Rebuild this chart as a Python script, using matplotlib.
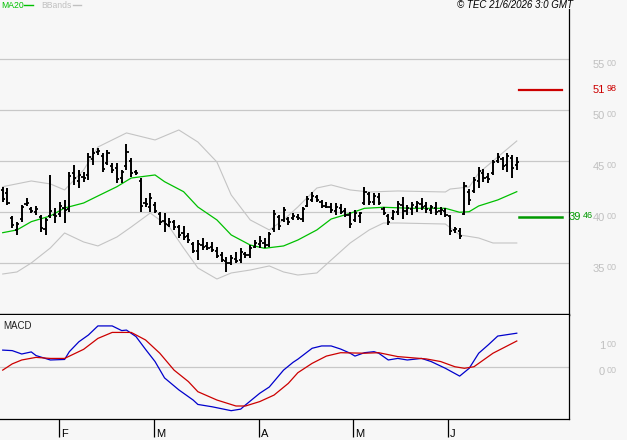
import matplotlib
matplotlib.use("Agg")
import matplotlib.pyplot as plt
import numpy as np

plt.rcParams['font.family'] = ['Liberation Sans', 'DejaVu Sans']

# daily bars, mid january -> mid june
highs = [42.48, 42.35, 39.61, 39.02, 40.69, 41.37, 40.49, 40.59, 39.71, 39.41,
         43.63, 40.39, 40.98, 41.18, 43.92, 44.61, 44.12, 43.92, 45.78, 46.27,
         46.27, 45.78, 46.08, 44.80, 44.80, 44.12, 46.67, 45.29, 44.12, 43.33,
         41.37, 41.86, 40.98, 40.00, 39.90, 39.41, 39.22, 38.73, 38.63, 37.94,
         37.06, 37.25, 37.45, 37.06, 37.06, 36.57, 36.08, 35.59, 35.78, 36.08,
         36.47, 36.08, 36.76, 37.25, 37.65, 37.45, 38.04, 40.20, 39.71, 40.49,
         39.51, 39.90, 39.80, 40.49, 41.57, 41.96, 41.67, 41.18, 40.98, 40.88,
         40.88, 40.78, 40.39, 40.00, 40.20, 40.00, 42.45, 41.96, 41.86, 41.86,
         40.49, 39.80, 40.20, 41.08, 41.47, 40.69, 40.98, 41.08, 41.37, 40.98,
         40.69, 40.98, 40.49, 40.39, 39.71, 38.53, 38.43, 42.94, 42.25, 43.43,
         44.41, 44.22, 43.82, 45.10, 45.78, 45.39, 45.78, 45.59, 45.39]
lows = [41.01, 40.69, 38.43, 37.75, 39.02, 40.59, 39.90, 39.71, 38.04, 37.75,
        39.41, 38.92, 39.51, 38.92, 40.00, 42.65, 42.35, 42.94, 43.14, 44.61,
        45.59, 43.92, 44.61, 43.82, 42.84, 42.84, 44.12, 43.43, 43.63, 40.00,
        40.49, 40.00, 39.90, 38.73, 38.04, 38.53, 38.24, 37.45, 37.25, 36.96,
        35.98, 35.29, 36.27, 36.27, 36.08, 35.49, 35.10, 34.12, 34.80, 35.00,
        35.00, 35.49, 35.49, 36.47, 36.47, 36.47, 36.57, 38.04, 38.24, 39.02,
        38.73, 39.22, 39.22, 39.02, 40.49, 40.98, 40.98, 40.39, 40.39, 39.90,
        39.71, 39.80, 39.51, 38.43, 39.02, 38.92, 40.69, 40.69, 40.69, 40.69,
        39.71, 38.73, 39.22, 39.71, 39.31, 39.71, 39.71, 40.00, 40.20, 39.90,
        39.80, 39.71, 39.71, 39.51, 37.75, 37.94, 37.35, 39.71, 40.69, 41.86,
        42.35, 42.94, 42.84, 43.63, 44.80, 44.12, 43.92, 43.33, 44.12]
opens = [42.2, 41.9, 39.4, 38.2, 39.3, 40.8, 40.3, 40.0, 39.5, 38.3,
         39.6, 39.7, 39.8, 40.4, 40.3, 43.8, 43.0, 43.4, 43.6, 45.2,
         45.9, 45.5, 44.8, 44.5, 44.3, 43.3, 44.5, 45.0, 43.9, 43.0,
         40.9, 40.5, 40.7, 39.8, 39.1, 38.7, 39.0, 38.5, 37.9, 37.6,
         36.9, 36.2, 36.8, 36.7, 36.6, 36.2, 35.8, 35.2, 35.0, 35.4,
         35.3, 35.9, 35.8, 36.6, 36.9, 37.0, 36.8, 38.3, 39.5, 39.2,
         39.3, 39.4, 39.5, 39.3, 40.6, 41.2, 41.5, 41.0, 40.6, 40.5,
         40.1, 40.4, 40.1, 39.7, 39.2, 39.6, 40.9, 41.8, 41.0, 41.5,
         40.3, 39.6, 39.4, 40.0, 40.7, 40.1, 40.3, 40.5, 40.8, 40.6,
         40.2, 40.4, 40.1, 40.1, 39.6, 38.2, 38.1, 39.8, 42.0, 42.1,
         43.0, 43.8, 43.4, 43.8, 45.0, 45.2, 44.6, 45.3, 44.6]
closes = [41.3, 40.9, 38.7, 38.8, 40.5, 40.9, 40.1, 40.3, 38.4, 39.2,
          40.1, 39.6, 40.6, 40.2, 43.5, 43.3, 43.6, 43.3, 45.4, 45.8,
          46.0, 44.2, 45.8, 44.1, 43.2, 43.9, 45.9, 43.8, 43.8, 40.6,
          40.8, 41.4, 40.1, 39.0, 38.8, 39.0, 38.5, 37.7, 37.5, 37.3,
          36.2, 36.9, 36.6, 36.5, 36.3, 35.7, 35.3, 35.0, 35.5, 35.2,
          36.1, 35.8, 36.5, 37.0, 37.2, 36.8, 37.8, 39.8, 38.6, 40.2,
          39.0, 39.6, 39.4, 40.3, 41.3, 41.6, 41.2, 40.6, 40.5, 40.2,
          40.5, 40.0, 39.7, 38.8, 39.9, 39.9, 42.0, 41.0, 41.6, 40.9,
          39.9, 39.0, 40.0, 40.8, 40.1, 40.4, 40.7, 40.9, 40.5, 40.3,
          40.5, 40.0, 40.2, 39.7, 38.1, 38.3, 37.6, 42.5, 41.2, 43.1,
          44.0, 43.3, 43.2, 44.9, 45.4, 44.5, 45.5, 44.3, 44.9]

# indicators (bar index, value)
ma_idx = [0, 3, 6, 10, 13, 17, 20, 24, 27, 32, 34, 38, 41, 45, 48, 52, 55, 59, 62, 66,
          69, 73, 76, 80, 86, 93, 96, 98, 100, 104, 108]
ma_val = [37.97, 38.24, 39.05, 39.61, 40.39, 40.88, 41.57, 42.48, 43.33, 43.63, 42.97,
          41.99, 40.49, 39.22, 37.75, 36.76, 36.44, 36.67, 37.25, 38.24, 39.31, 39.87,
          40.36, 40.46, 40.36, 40.36, 39.97, 40.03, 40.59, 41.18, 41.99]
bb_up_idx = [0, 6, 10, 13, 17, 20, 26, 32, 37, 41, 45, 48, 52, 56, 59, 62, 66, 69, 73,
             77, 83, 93, 94, 98, 100, 104, 108]
bb_up_val = [42.48, 43.04, 42.75, 42.16, 44.12, 46.37, 47.75, 47.06, 48.04, 46.86, 44.90,
             41.67, 39.22, 38.24, 39.22, 40.49, 42.35, 42.65, 42.16, 41.96, 42.06, 41.96,
             42.25, 42.45, 43.82, 45.39, 46.96]
bb_lo_idx = [0, 3, 6, 10, 13, 17, 20, 24, 27, 31, 35, 38, 41, 45, 48, 52, 56, 59, 62, 66,
             69, 73, 77, 80, 83, 93, 96, 100, 103, 108]
bb_lo_val = [33.92, 34.12, 35.00, 36.47, 37.94, 37.06, 36.67, 37.55, 38.53, 39.90, 38.53,
             36.47, 34.51, 33.43, 34.02, 34.31, 34.71, 34.12, 33.82, 34.02, 35.29, 36.96,
             38.24, 38.92, 38.92, 38.82, 37.75, 37.45, 36.96, 36.96]

macd_idx = [0, 2, 4, 6, 7, 10, 13, 14, 16, 18, 20, 23, 25, 26, 28, 30, 32, 34, 37, 40,
            41, 44, 48, 50, 51, 54, 56, 59, 61, 62, 65, 67, 69, 71, 73, 74, 76, 78, 79,
            81, 83, 85, 88, 90, 93, 96, 98, 100, 102, 104, 108]
macd_val = [0.65, 0.63, 0.50, 0.58, 0.44, 0.27, 0.29, 0.59, 0.97, 1.23, 1.58, 1.58, 1.40,
            1.42, 1.17, 0.68, 0.21, -0.42, -0.88, -1.27, -1.44, -1.53, -1.68, -1.62,
            -1.46, -1.01, -0.77, -0.12, 0.18, 0.30, 0.72, 0.81, 0.81, 0.69, 0.53, 0.42,
            0.55, 0.59, 0.53, 0.27, 0.33, 0.27, 0.33, 0.21, -0.05, -0.35, -0.05, 0.53,
            0.85, 1.19, 1.30]
sig_idx = [0, 2, 4, 7, 10, 13, 17, 20, 23, 27, 30, 33, 36, 39, 41, 45, 49, 51, 54, 57,
           60, 62, 65, 68, 71, 76, 79, 83, 89, 92, 95, 97, 99, 103, 108]
sig_val = [-0.12, 0.12, 0.27, 0.37, 0.33, 0.33, 0.68, 1.10, 1.33, 1.33, 1.04, 0.53, -0.12,
           -0.56, -0.95, -1.27, -1.50, -1.50, -1.33, -1.08, -0.63, -0.22, 0.14, 0.42,
           0.55, 0.53, 0.55, 0.40, 0.31, 0.21, 0.01, -0.05, 0.01, 0.53, 1.00]

month_pos = [11.9, 31.8, 53.8, 73.6, 93.5]
month_lbl = ['F', 'M', 'A', 'M', 'J']
price_ticks = [35, 40, 45, 50, 55]
macd_ticks = [0, 1]
resistance = 51.98
support = 39.46

BG = '#f7f7f7'
GRID = '#c8c8c8'
LBL = '#c0c0c0'

fig = plt.figure(figsize=(6.27, 4.4), dpi=100, facecolor=BG)
ax = fig.add_axes([0, 1 - 315 / 440, 569 / 627, (315 - 9) / 440], facecolor=BG)
axm = fig.add_axes([0, 1 - 419 / 440, 569 / 627, (419 - 315) / 440], facecolor=BG, sharex=ax)

# price panel
x = np.arange(len(highs))
for p in price_ticks:
    ax.axhline(p, color=GRID, lw=0.9, zorder=0)
ax.plot(bb_up_idx, bb_up_val, color='#c4c4c4', lw=0.8)
ax.plot(bb_lo_idx, bb_lo_val, color='#c4c4c4', lw=0.8)
ax.plot(ma_idx, ma_val, color='#00c000', lw=0.9)
ax.vlines(x, lows, highs, color='black', lw=1.4)
ax.hlines(opens, x - 0.45, x, color='black', lw=1.3)
ax.hlines(closes, x, x + 0.45, color='black', lw=1.3)

ax.axhline(resistance, xmin=0.912, xmax=0.988, color='#cc0000', lw=1.6)
ax.axhline(support, xmin=0.912, xmax=0.988, color='#009900', lw=1.8)

ax.set_xlim(-0.57, 118.97)
ax.set_ylim(29.9, 59.9)
ax.set_xticks([])
ax.set_yticks([])
for s in ['left', 'top']:
    ax.spines[s].set_visible(False)
ax.spines['right'].set_linewidth(0.9)
ax.spines['bottom'].set_linewidth(1.7)


def price_label(axis, v, ip, dp, color, dx_int, dy):
    kw = dict(xycoords=('axes fraction', 'data'), textcoords='offset pixels',
              va='center', annotation_clip=False, color=color)
    axis.annotate(ip, xy=(1, v), xytext=(dx_int, dy), ha='right', fontsize=8, **kw)
    axis.annotate(dp, xy=(1, v), xytext=(dx_int + 2, dy + 1.5), ha='left', fontsize=6.5, **kw)


for p in price_ticks:
    price_label(ax, p, '%d' % p, '00', LBL, 36, -6)
price_label(ax, resistance, '%d' % int(resistance), '%02d' % round(resistance % 1 * 100),
            '#cc0000', 36, 0)
price_label(ax, support, '%d' % int(support), '%02d' % round(support % 1 * 100),
            '#009900', 12, 0)

# macd panel
axm.axhline(0, color=GRID, lw=0.9, zorder=0)
axm.plot(macd_idx, macd_val, color='#0000cc', lw=0.9)
axm.plot(sig_idx, sig_val, color='#cc0000', lw=0.9)
axm.set_ylim(-2, 2)
axm.set_yticks([])
axm.spines['left'].set_visible(False)
axm.spines['top'].set_visible(False)
axm.spines['right'].set_linewidth(0.9)
axm.spines['bottom'].set_linewidth(0.9)
axm.set_xticks(month_pos)
axm.set_xticklabels([])
axm.tick_params(axis='x', direction='out', length=13, width=0.9, color='black')
for m, lb in zip(month_pos, month_lbl):
    axm.annotate(lb, xy=(m, 0), xycoords=('data', 'axes fraction'), xytext=(2, -15),
                 textcoords='offset pixels', ha='left', va='center', fontsize=8,
                 annotation_clip=False)
for v in macd_ticks:
    price_label(axm, v, '%d' % v, '00', LBL, 36, -5)
axm.text(3 / 569, 0.89, 'MACD', transform=axm.transAxes, fontsize=7, ha='left',
         va='center', color='#202020')

# header
fig.text(1 / 627, 1 - 5 / 440, 'MA20', color='#00c000', fontsize=6.2, ha='left', va='center')
fig.add_artist(plt.Line2D([24 / 627, 33 / 627], [1 - 5 / 440] * 2, color='#00c000', lw=1))
fig.text(41 / 627, 1 - 5 / 440, 'BBands', color=LBL, fontsize=6.2, ha='left', va='center')
fig.add_artist(plt.Line2D([73 / 627, 81 / 627], [1 - 5 / 440] * 2, color=LBL, lw=1))
fig.text(573 / 627, 1 - 5 / 440, '\u00a9 TEC 21/6/2026 3:0 GMT', fontsize=7,
         style='italic', ha='right', va='center')

fig.savefig('out.png', dpi=100, facecolor=BG)
